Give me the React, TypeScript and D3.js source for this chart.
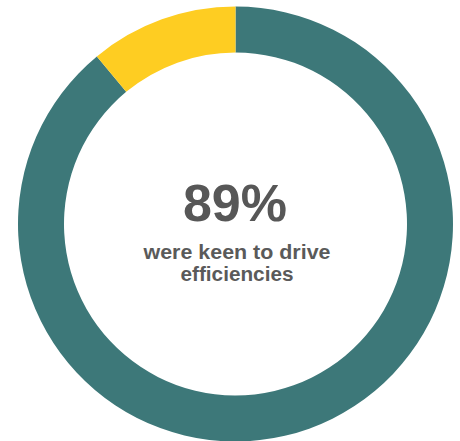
import React from "react";
import * as d3 from "d3";

const categories = ["Keen to drive efficiencies", "Other"];
const values = [89, 11];
const colors = ["#3d7879", "#fecd22"];
const headline = "89%";
const subtitleLines = ["were keen to drive", "efficiencies"];
const subtitleWidths = [187, 113];

export default function App() {
  const width = 460;
  const height = 441;
  const cx = 235.5;
  const cy = 224;
  const outer = 217.5;
  const inner = 171.5;

  const pie = d3.pie<number>().sort(null).value((d) => d)(values);
  const arc = d3.arc<d3.PieArcDatum<number>>().innerRadius(inner).outerRadius(outer);

  return (
    <svg
      width={width}
      height={height}
      style={{ position: "absolute", left: 0, top: 0 }}
    >
      <rect width={width} height={height} fill="#ffffff" />
      <g transform={`translate(${cx},${cy})`}>
        {pie.map((p, i) => (
          <path key={categories[i]} d={arc(p) || ""} fill={colors[i]} />
        ))}
      </g>
      <text
        x={235}
        y={221}
        textAnchor="middle"
        fontFamily="Liberation Sans, Arial, sans-serif"
        fontWeight="bold"
        fontSize={52}
        fill="#575757"
      >
        {headline}
      </text>
      {subtitleLines.map((line, i) => (
        <text
          key={line}
          x={237 - subtitleWidths[i] / 2}
          y={258.5 + i * 22}
          textLength={subtitleWidths[i]}
          lengthAdjust="spacingAndGlyphs"
          fontFamily="Liberation Sans, Arial, sans-serif"
          fontWeight="bold"
          fontSize={19.5}
          fill="#5a5a5a"
        >
          {line}
        </text>
      ))}
    </svg>
  );
}
